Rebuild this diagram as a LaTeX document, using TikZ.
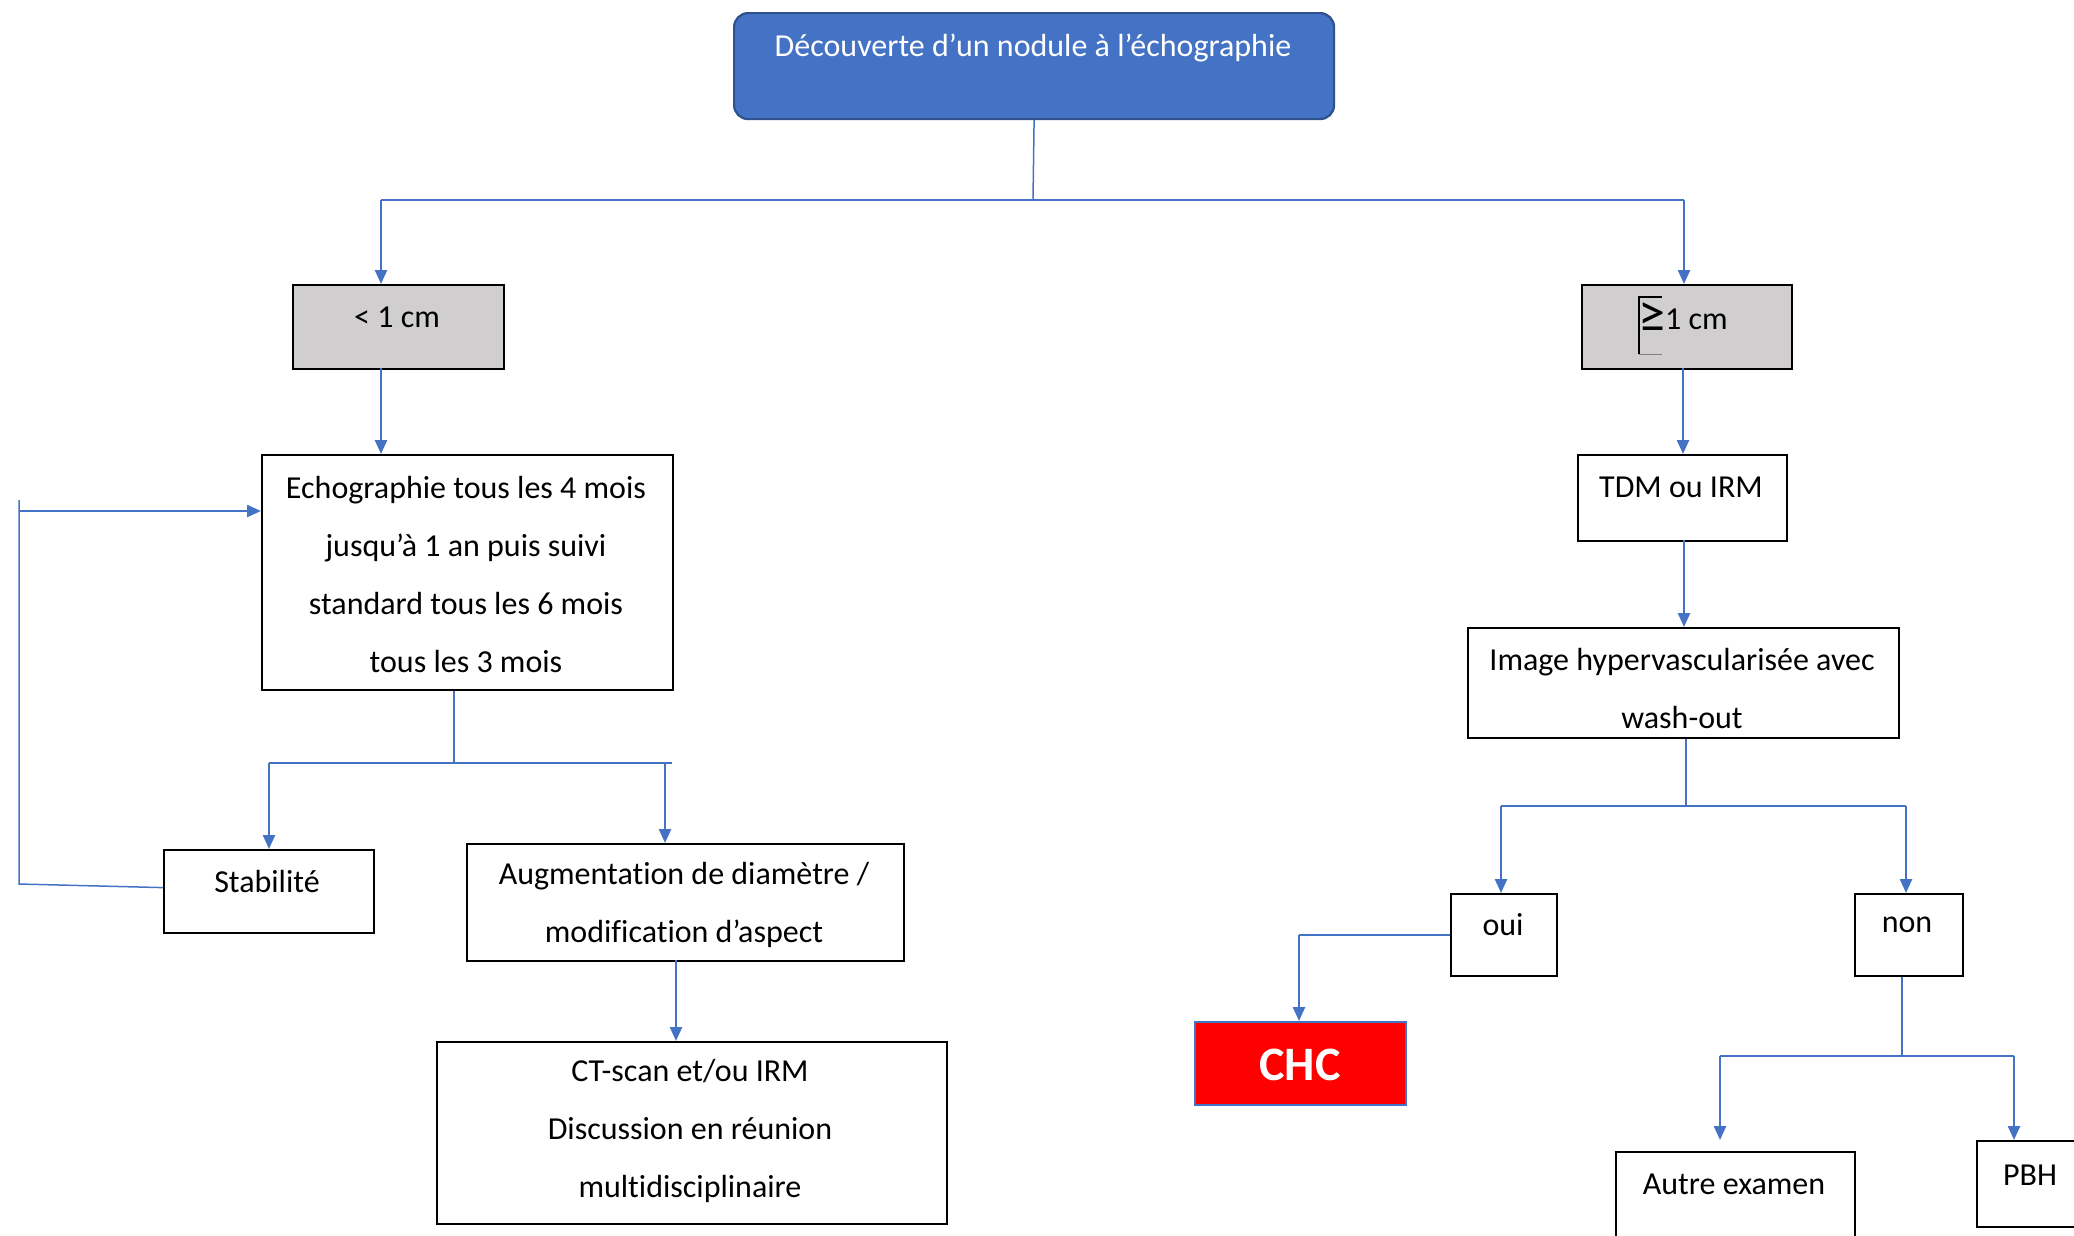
\documentclass[tikz,border=0pt]{standalone}
\usepackage{fontspec}
\setmainfont[Ligatures=NoCommon]{Carlito}
\usetikzlibrary{arrows.meta}
\definecolor{cblue}{HTML}{4472C4}
\definecolor{dblue}{HTML}{2F528F}
\definecolor{cgray}{HTML}{D0CECE}
\tikzset{
  box/.style={draw=black, line width=2.2pt, anchor=north west, inner sep=0pt},
  txt/.style={font=\fontsize{32}{58}\selectfont, align=center, inner sep=0pt},
  conn/.style={draw=cblue, line width=1.5pt},
  arr/.style={draw=cblue, line width=2.4pt, -{Triangle[width=12pt,length=14pt]}},
}
\begin{document}
\begin{tikzpicture}[x=1pt,y=-1pt]
\useasboundingbox (0,0) rectangle (2074,1235);
% boxes
\node[box, draw=dblue, fill=cblue, rounded corners=14pt, minimum width=600pt, minimum height=106pt] (top) at (733,12) {};
\node[txt, text=white] (toptxt) at (1033,48) {Découverte d’un nodule à l’échographie};

\node[box, fill=cgray, minimum width=211pt, minimum height=84pt] (lt) at (292,284) {};
\node[txt] (lttxt) at (397,317) {< 1 cm};
\node[box, fill=cgray, minimum width=210pt, minimum height=84pt] (gt) at (1581,284) {};
\node[txt, anchor=west] (gttxt) at (1638,318) {\raisebox{-3pt}{\fontsize{54}{54}\selectfont ≥}1 cm};
\draw[black, line width=1.2pt] (1662,297) -- (1639,297) -- (1639,354);
\draw[gray, line width=1pt] (1639,354) -- (1662,354);

\node[box, minimum width=411pt, minimum height=235pt] (echo) at (261,454) {};
\node[txt] (echotxt) at (466,574) {Echographie tous les 4 mois\\jusqu’à 1 an puis suivi\\standard tous les 6 mois\\tous les 3 mois};

\node[box, minimum width=210pt, minimum height=83pt] (stab) at (163,849) {};
\node[txt] (stabtxt) at (267,881) {Stabilité};
\node[box, minimum width=437pt, minimum height=117pt] (aug) at (466,843) {};
\node[txt] (augtxt) at (684,905) {Augmentation de diamètre /\\modification d’aspect};
\node[box, minimum width=510pt, minimum height=182pt] (ct) at (436,1041) {};
\node[txt] (cttxt) at (690,1131) {CT-scan et/ou IRM\\Discussion en réunion\\multidisciplinaire};

\node[box, minimum width=209pt, minimum height=86pt] (tdm) at (1577,454) {};
\node[txt] (tdmtxt) at (1681,487) {TDM ou IRM};
\node[box, minimum width=431pt, minimum height=110pt] (img) at (1467,627) {};
\node[txt] (imgtxt) at (1682,688) {Image hypervascularisée avec\\wash-out};

\node[box, minimum width=106pt, minimum height=82pt] (oui) at (1450,893) {};
\node[txt] (ouitxt) at (1503,925) {oui};
\node[box, minimum width=108pt, minimum height=82pt] (non) at (1854,893) {};
\node[txt] (nontxt) at (1907,925) {non};
\node[box, draw=cblue, fill=red, line width=2pt, minimum width=211pt, minimum height=83pt] (chc) at (1194,1021) {};
\node[txt, text=white, font=\fontsize{48}{54}\selectfont\bfseries] (chctxt) at (1300,1065) {CHC};
\node[box, minimum width=239pt, minimum height=110pt] (autre) at (1615,1151) {};
\node[txt] (autretxt) at (1734,1184) {Autre examen};
\node[box, minimum width=110pt, minimum height=86pt] (pbh) at (1976,1140) {};
\node[txt] (pbhtxt) at (2030,1175) {PBH};

% junction coordinates
\coordinate (j1) at (1033,200);
\coordinate (jl) at (381,200);
\coordinate (jr) at (1684,200);
\coordinate (ltout) at (381,368);
\coordinate (gtout) at (1683,368);
\coordinate (e1) at (454,763);
\coordinate (el) at (269,763);
\coordinate (er) at (672,763);
\coordinate (erx) at (665,763);
\coordinate (augout) at (676,960);
\coordinate (fb1) at (19,884);
\coordinate (fb2) at (19,500);
\coordinate (fb3) at (19,511);
\coordinate (tdmout) at (1684,540);
\coordinate (i1) at (1686,806);
\coordinate (il) at (1501,806);
\coordinate (ir) at (1906,806);
\coordinate (oc) at (1299,935);
\coordinate (n1) at (1902,1056);
\coordinate (nl) at (1720,1056);
\coordinate (nr) at (2014,1056);

% connectors
\draw[conn] (top.south) -- (j1);
\draw[conn] (jl) -- (jr);
\draw[arr] (jl) -- (jl |- lt.north);
\draw[arr] (jr) -- (jr |- gt.north);
\draw[arr] (ltout) -- (ltout |- echo.north);
\draw[arr] (gtout) -- (gtout |- tdm.north);

\draw[conn] (e1 |- echo.south) -- (e1);
\draw[conn] (el) -- (er);
\draw[arr] (el) -- (el |- stab.north);
\draw[arr] (erx) -- (erx |- aug.north);
\draw[arr] (augout) -- (augout |- ct.north);
\draw[conn] ([yshift=4pt]stab.west) -- (fb1) -- (fb2);
\draw[arr] (fb3) -- (fb3 -| echo.west);

\draw[arr] (tdmout) -- (tdmout |- img.north);
\draw[conn] (i1 |- img.south) -- (i1);
\draw[conn] (il) -- (ir);
\draw[arr] (il) -- (il |- oui.north);
\draw[arr] (ir) -- (ir |- non.north);
\draw[conn] (oui.west |- oc) -- (oc);
\draw[arr] (oc) -- (oc |- chc.north);
\draw[conn] (n1 |- non.south) -- (n1);
\draw[conn] (nl) -- (nr);
\draw[arr] (nl) -- (nl |- pbh.north);
\draw[arr] (nr) -- (nr |- pbh.north);
\end{tikzpicture}
\end{document}
